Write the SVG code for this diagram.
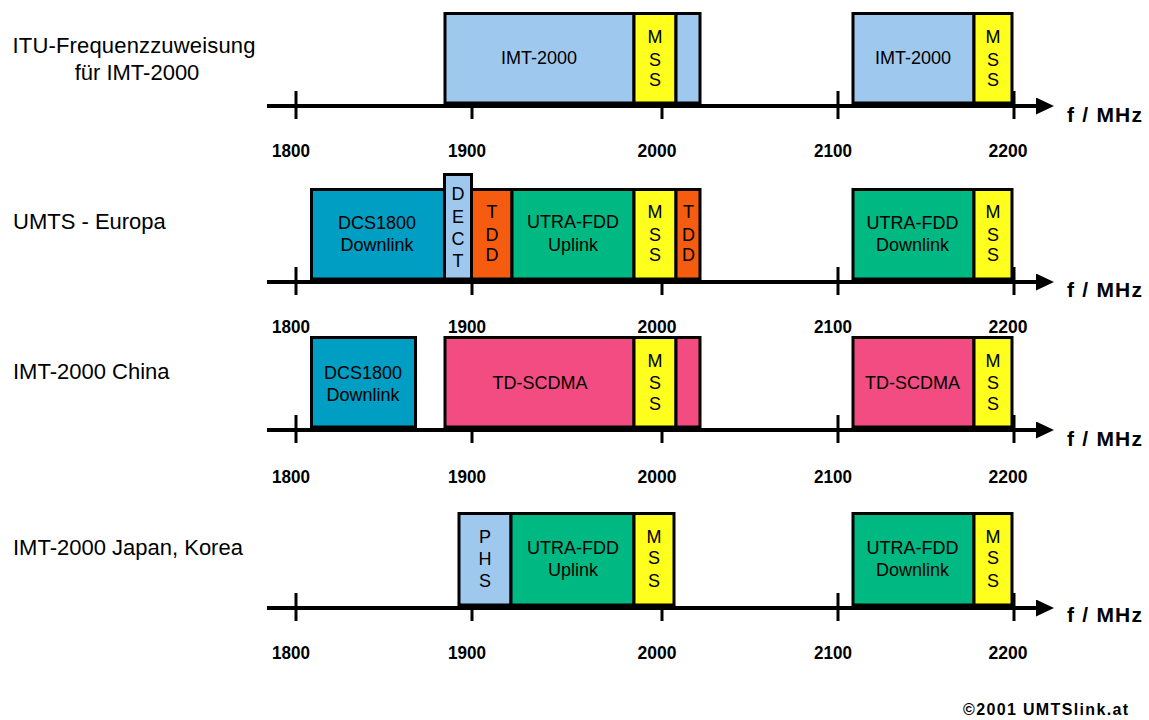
<svg xmlns="http://www.w3.org/2000/svg" width="1149" height="720" viewBox="0 0 1149 720">
<defs>
<style>
.b{stroke:#000;stroke-width:3}
.lb{fill:#9fc8ef}.ye{fill:#ffff1e}.te{fill:#019ec3}.or{fill:#f65c0f}.gr{fill:#00b982}.pk{fill:#f34c83}
.t{font-family:"Liberation Sans",Arial,sans-serif;font-size:18px;fill:#000;text-anchor:middle}
.row{font-family:"Liberation Sans",Arial,sans-serif;font-size:22px;fill:#000}
.num{font-family:"Liberation Sans",Arial,sans-serif;font-size:19px;font-weight:bold;fill:#000;text-anchor:middle}
.unit{font-family:"Liberation Sans",Arial,sans-serif;font-size:21px;font-weight:bold;fill:#000}
.ax{stroke:#000;stroke-width:4}
.tk{stroke:#000;stroke-width:3}
</style>
<marker id="arr" viewBox="0 0 18 17" refX="0" refY="8.5" markerWidth="18" markerHeight="17" markerUnits="userSpaceOnUse" orient="auto">
<path d="M0,0 L18,8.5 L0,17 Z" fill="#000"/>
</marker>
</defs>
<rect width="1149" height="720" fill="#fff"/>

<g id="labels">
<text class="row" x="134" y="53" text-anchor="middle" textLength="243" lengthAdjust="spacing">ITU-Frequenzzuweisung</text>
<text class="row" x="137" y="80" text-anchor="middle">für IMT-2000</text>
<text class="row" x="13" y="229">UMTS - Europa</text>
<text class="row" x="13" y="379">IMT-2000 China</text>
<text class="row" x="13" y="555">IMT-2000 Japan, Korea</text>
</g>

<g id="axes">
<g id="axis1">
<line class="tk" x1="296" y1="91" x2="296" y2="119"/><line class="tk" x1="472" y1="91" x2="472" y2="119"/><line class="tk" x1="662" y1="91" x2="662" y2="119"/><line class="tk" x1="838" y1="91" x2="838" y2="119"/><line class="tk" x1="1014" y1="91" x2="1014" y2="119"/>
<line class="ax" x1="267" y1="106" x2="1036" y2="106" marker-end="url(#arr)"/>
</g>
<g id="axis2">
<line class="tk" x1="296" y1="267" x2="296" y2="295"/><line class="tk" x1="472" y1="267" x2="472" y2="295"/><line class="tk" x1="662" y1="267" x2="662" y2="295"/><line class="tk" x1="838" y1="267" x2="838" y2="295"/><line class="tk" x1="1014" y1="267" x2="1014" y2="295"/>
<line class="ax" x1="267" y1="282" x2="1036" y2="282" marker-end="url(#arr)"/>
</g>
<g id="axis3">
<line class="tk" x1="296" y1="415" x2="296" y2="443"/><line class="tk" x1="472" y1="415" x2="472" y2="443"/><line class="tk" x1="662" y1="415" x2="662" y2="443"/><line class="tk" x1="838" y1="415" x2="838" y2="443"/><line class="tk" x1="1014" y1="415" x2="1014" y2="443"/>
<line class="ax" x1="267" y1="430" x2="1036" y2="430" marker-end="url(#arr)"/>
</g>
<g id="axis4">
<line class="tk" x1="296" y1="593" x2="296" y2="621"/><line class="tk" x1="472" y1="593" x2="472" y2="621"/><line class="tk" x1="662" y1="593" x2="662" y2="621"/><line class="tk" x1="838" y1="593" x2="838" y2="621"/><line class="tk" x1="1014" y1="593" x2="1014" y2="621"/>
<line class="ax" x1="267" y1="608" x2="1036" y2="608" marker-end="url(#arr)"/>
</g>
</g>

<g id="scale-labels">
<g id="scale1">
<text class="num" x="291" y="157" textLength="38" lengthAdjust="spacingAndGlyphs">1800</text><text class="num" x="467" y="157" textLength="38" lengthAdjust="spacingAndGlyphs">1900</text><text class="num" x="657" y="157" textLength="39" lengthAdjust="spacingAndGlyphs">2000</text><text class="num" x="833" y="157" textLength="38" lengthAdjust="spacingAndGlyphs">2100</text><text class="num" x="1008" y="157" textLength="39" lengthAdjust="spacingAndGlyphs">2200</text>
<text class="unit" x="1067" y="122" textLength="75" lengthAdjust="spacing">f / MHz</text>
</g>
<g id="scale2">
<text class="num" x="291" y="333" textLength="38" lengthAdjust="spacingAndGlyphs">1800</text><text class="num" x="467" y="333" textLength="38" lengthAdjust="spacingAndGlyphs">1900</text><text class="num" x="657" y="333" textLength="39" lengthAdjust="spacingAndGlyphs">2000</text><text class="num" x="833" y="333" textLength="38" lengthAdjust="spacingAndGlyphs">2100</text><text class="num" x="1008" y="333" textLength="39" lengthAdjust="spacingAndGlyphs">2200</text>
<text class="unit" x="1067" y="297" textLength="75" lengthAdjust="spacing">f / MHz</text>
</g>
<g id="scale3">
<text class="num" x="291" y="483" textLength="38" lengthAdjust="spacingAndGlyphs">1800</text><text class="num" x="467" y="483" textLength="38" lengthAdjust="spacingAndGlyphs">1900</text><text class="num" x="657" y="483" textLength="39" lengthAdjust="spacingAndGlyphs">2000</text><text class="num" x="833" y="483" textLength="38" lengthAdjust="spacingAndGlyphs">2100</text><text class="num" x="1008" y="483" textLength="39" lengthAdjust="spacingAndGlyphs">2200</text>
<text class="unit" x="1067" y="446" textLength="75" lengthAdjust="spacing">f / MHz</text>
</g>
<g id="scale4">
<text class="num" x="291" y="659" textLength="38" lengthAdjust="spacingAndGlyphs">1800</text><text class="num" x="467" y="659" textLength="38" lengthAdjust="spacingAndGlyphs">1900</text><text class="num" x="657" y="659" textLength="39" lengthAdjust="spacingAndGlyphs">2000</text><text class="num" x="833" y="659" textLength="38" lengthAdjust="spacingAndGlyphs">2100</text><text class="num" x="1008" y="659" textLength="39" lengthAdjust="spacingAndGlyphs">2200</text>
<text class="unit" x="1067" y="622" textLength="75" lengthAdjust="spacing">f / MHz</text>
</g>
</g>

<!-- Row 1 -->
<g id="r1-imt-a"><rect class="b lb" x="445" y="13.5" width="189" height="89.5"/><text class="t" x="539" y="64">IMT-2000</text></g>
<g id="r1-mss-a"><rect class="b ye" x="634" y="13.5" width="42" height="89.5"/><text class="t" x="655" y="42.5">M</text><text class="t" x="655" y="65.5">S</text><text class="t" x="655" y="85.5">S</text></g>
<g id="r1-imt-b"><rect class="b lb" x="676" y="13.5" width="24" height="89.5"/></g>
<g id="r1-imt-c"><rect class="b lb" x="853" y="13.5" width="121" height="89.5"/><text class="t" x="913" y="64">IMT-2000</text></g>
<g id="r1-mss-b"><rect class="b ye" x="974" y="13.5" width="38" height="89.5"/><text class="t" x="993" y="42.5">M</text><text class="t" x="993" y="65.5">S</text><text class="t" x="993" y="85.5">S</text></g>

<!-- Row 2 -->
<g id="r2-dcs"><rect class="b te" x="311.5" y="189.5" width="133" height="89.5"/><text class="t" x="377" y="229">DCS1800</text><text class="t" x="377" y="251">Downlink</text></g>
<g id="r2-dect"><rect class="b lb" x="444.5" y="174.5" width="27" height="104.5" stroke="#222"/><text class="t" x="458" y="200">D</text><text class="t" x="458" y="223">E</text><text class="t" x="458" y="245">C</text><text class="t" x="458" y="266.5">T</text></g>
<g id="r2-tdd-a"><rect class="b or" x="471.5" y="189.5" width="40.5" height="89.5"/><text class="t" x="492" y="218">T</text><text class="t" x="492" y="241">D</text><text class="t" x="492" y="261">D</text></g>
<g id="r2-utra-up"><rect class="b gr" x="512" y="189.5" width="122" height="89.5"/><text class="t" x="573" y="228">UTRA-FDD</text><text class="t" x="573" y="250.5">Uplink</text></g>
<g id="r2-mss-a"><rect class="b ye" x="634" y="189.5" width="42" height="89.5"/><text class="t" x="655" y="218">M</text><text class="t" x="655" y="241">S</text><text class="t" x="655" y="261">S</text></g>
<g id="r2-tdd-b"><rect class="b or" x="676" y="189.5" width="24" height="89.5"/><text class="t" x="688.5" y="218">T</text><text class="t" x="688.5" y="241">D</text><text class="t" x="688.5" y="261">D</text></g>
<g id="r2-utra-down"><rect class="b gr" x="853" y="189.5" width="121" height="89.5"/><text class="t" x="912.5" y="229">UTRA-FDD</text><text class="t" x="912.5" y="251">Downlink</text></g>
<g id="r2-mss-b"><rect class="b ye" x="974" y="189.5" width="38" height="89.5"/><text class="t" x="993" y="218">M</text><text class="t" x="993" y="241">S</text><text class="t" x="993" y="261">S</text></g>

<!-- Row 3 -->
<g id="r3-dcs"><rect class="b te" x="311.5" y="337.5" width="104" height="89.5"/><text class="t" x="363" y="379">DCS1800</text><text class="t" x="363" y="401">Downlink</text></g>
<g id="r3-tdscdma-a"><rect class="b pk" x="445" y="337.5" width="189" height="89.5"/><text class="t" x="540" y="389">TD-SCDMA</text></g>
<g id="r3-mss-a"><rect class="b ye" x="634" y="337.5" width="42" height="89.5"/><text class="t" x="655" y="367">M</text><text class="t" x="655" y="389">S</text><text class="t" x="655" y="410">S</text></g>
<g id="r3-tdscdma-b"><rect class="b pk" x="676" y="337.5" width="24" height="89.5"/></g>
<g id="r3-tdscdma-c"><rect class="b pk" x="853" y="337.5" width="121" height="89.5"/><text class="t" x="912.5" y="389">TD-SCDMA</text></g>
<g id="r3-mss-b"><rect class="b ye" x="974" y="337.5" width="38" height="89.5"/><text class="t" x="993" y="367">M</text><text class="t" x="993" y="389">S</text><text class="t" x="993" y="410">S</text></g>

<!-- Row 4 -->
<g id="r4-phs"><rect class="b lb" x="459" y="513.5" width="52" height="91.5"/><text class="t" x="485" y="542.5">P</text><text class="t" x="485" y="565">H</text><text class="t" x="485" y="586.5">S</text></g>
<g id="r4-utra-up"><rect class="b gr" x="511" y="513.5" width="123" height="91.5"/><text class="t" x="573" y="554">UTRA-FDD</text><text class="t" x="573" y="576">Uplink</text></g>
<g id="r4-mss-a"><rect class="b ye" x="634" y="513.5" width="40" height="91.5"/><text class="t" x="654" y="542.5">M</text><text class="t" x="654" y="564">S</text><text class="t" x="654" y="586.5">S</text></g>
<g id="r4-utra-down"><rect class="b gr" x="853" y="513.5" width="121" height="91.5"/><text class="t" x="912.5" y="554">UTRA-FDD</text><text class="t" x="912.5" y="576">Downlink</text></g>
<g id="r4-mss-b"><rect class="b ye" x="974" y="513.5" width="38" height="91.5"/><text class="t" x="993" y="542.5">M</text><text class="t" x="993" y="564">S</text><text class="t" x="993" y="586.5">S</text></g>

<g id="copyright"><text x="963" y="715" font-family="'Liberation Sans',Arial,sans-serif" font-size="16" font-weight="bold" textLength="165" lengthAdjust="spacing">©2001 UMTSlink.at</text></g>
</svg>
